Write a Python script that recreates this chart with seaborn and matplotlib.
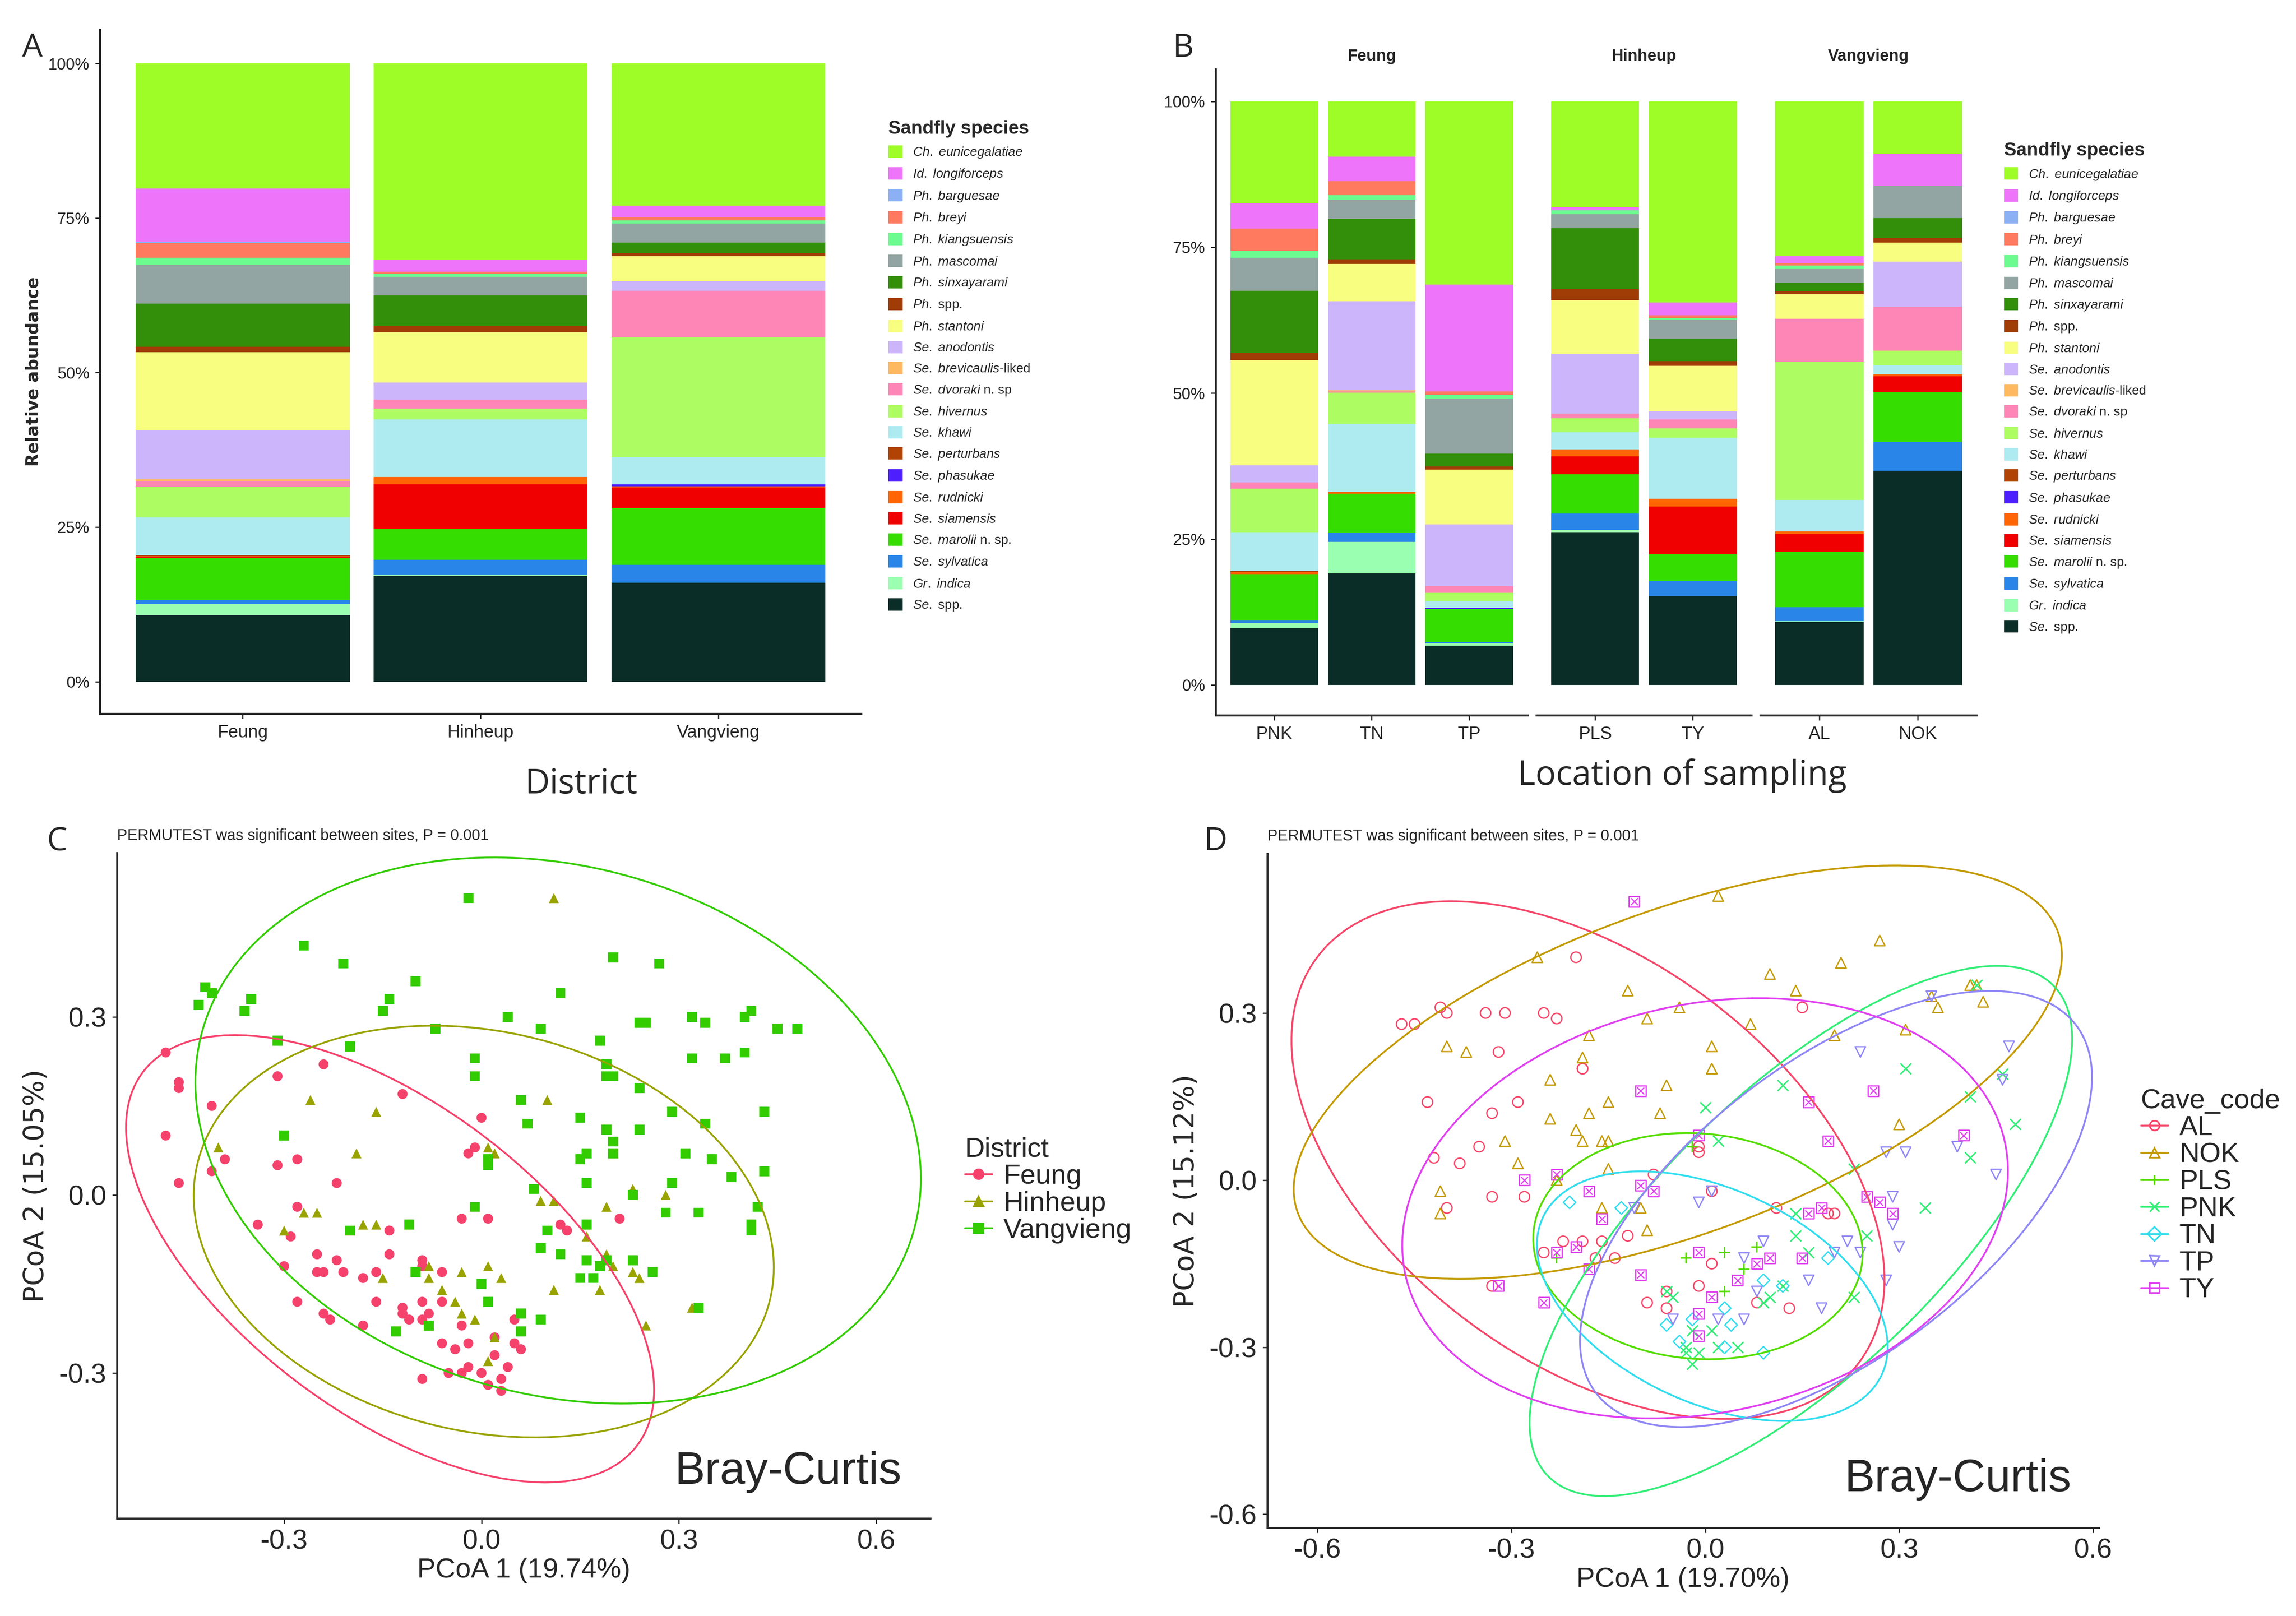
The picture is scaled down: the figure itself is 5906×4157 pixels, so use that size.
"""Sandfly species composition (stacked bars) and PCoA ordinations (Bray-Curtis)."""

import matplotlib
matplotlib.use("Agg")
import matplotlib.pyplot as plt
from matplotlib.lines import Line2D
from matplotlib.patches import Ellipse, Patch
import numpy as np
import pandas as pd
import seaborn as sns

sns.set_theme(style="ticks")
NARROW = ["Liberation Sans", "DejaVu Sans"]
plt.rcParams["font.family"] = NARROW
plt.rcParams["mathtext.fontset"] = "custom"
plt.rcParams["mathtext.it"] = "Liberation Sans:italic"
plt.rcParams["mathtext.rm"] = "Liberation Sans"

# ---------------- data: species composition (% per group, legend order) ----------------
species = [
    ("Ch. eunicegalatiae", ""), ("Id. longiforceps", ""), ("Ph. barguesae", ""),
    ("Ph. breyi", ""), ("Ph. kiangsuensis", ""), ("Ph. mascomai", ""),
    ("Ph. sinxayarami", ""), ("Ph.", " spp."), ("Ph. stantoni", ""),
    ("Se. anodontis", ""), ("Se. brevicaulis", "-liked"), ("Se. dvoraki", " n. sp"),
    ("Se. hivernus", ""), ("Se. khawi", ""), ("Se. perturbans", ""),
    ("Se. phasukae", ""), ("Se. rudnicki", ""), ("Se. siamensis", ""),
    ("Se. marolii", " n. sp."), ("Se. sylvatica", ""), ("Gr. indica", ""), ("Se.", " spp."),
]
species_colors = [
    "#9efd26", "#ee75f9", "#8cb0f4", "#ff7a5e", "#6cfb8e", "#93a5a2",
    "#338f09", "#a03c06", "#f8fe7f", "#cdb5fb", "#fdb860", "#fd86b7",
    "#adfd62", "#adebf0", "#b14405", "#4e1ffe", "#ff6505", "#f00000",
    "#36dd00", "#2986e8", "#9bffb1", "#0b2d27",
]

districts = ["Feung", "Hinheup", "Vangvieng"]
feung_pct = [20.3, 8.6, 0.2, 2.4, 1.1, 6.3, 7.0, 0.9, 12.6, 8.0, 0.3, 0.9, 5.0, 6.1, 0.2, 0.0, 0.1, 0.2, 6.8, 0.6, 1.8, 10.8]
hinheup_pct = [31.8, 1.9, 0.0, 0.3, 0.5, 3.0, 5.0, 1.0, 8.1, 2.8, 0.0, 1.4, 1.8, 9.3, 0.0, 0.0, 1.2, 7.2, 5.0, 2.4, 0.2, 17.1]
vangvieng_pct = [23.0, 1.9, 0.0, 0.5, 0.5, 3.1, 1.7, 0.5, 4.0, 1.6, 0.0, 7.5, 19.4, 4.4, 0.0, 0.3, 0.2, 3.3, 9.2, 2.9, 0.0, 16.0]

site_groups = {"Feung": ["PNK", "TN", "TP"], "Hinheup": ["PLS", "TY"], "Vangvieng": ["AL", "NOK"]}
pnk_pct = [17.5, 4.3, 0.0, 3.8, 1.2, 5.7, 10.6, 1.2, 18.1, 2.9, 0.0, 1.1, 7.4, 6.7, 0.2, 0.0, 0.3, 0.0, 7.9, 0.5, 0.8, 9.8]
tn_pct = [9.5, 4.2, 0.0, 2.4, 0.8, 3.3, 6.9, 0.8, 6.4, 15.3, 0.2, 0.2, 5.3, 11.7, 0.0, 0.0, 0.3, 0.0, 6.7, 1.6, 5.4, 19.1]
tp_pct = [31.4, 18.3, 0.0, 0.6, 0.7, 9.4, 2.2, 0.5, 9.4, 10.6, 0.0, 1.1, 1.5, 1.1, 0.0, 0.2, 0.0, 0.0, 5.7, 0.2, 0.4, 6.7]
pls_pct = [18.2, 0.5, 0.0, 0.0, 0.7, 2.4, 10.4, 1.9, 9.2, 10.3, 0.0, 0.8, 2.4, 2.9, 0.0, 0.0, 1.2, 3.1, 6.7, 2.8, 0.4, 26.2]
ty_pct = [34.5, 2.2, 0.0, 0.5, 0.3, 3.2, 3.9, 0.8, 7.8, 1.4, 0.0, 1.5, 1.6, 10.5, 0.0, 0.0, 1.3, 8.2, 4.6, 2.6, 0.0, 15.2]
al_pct = [26.6, 1.2, 0.0, 0.4, 0.6, 2.4, 1.4, 0.5, 4.2, 0.0, 0.0, 7.4, 23.7, 5.4, 0.0, 0.0, 0.4, 3.1, 9.5, 2.4, 0.1, 10.8]
nok_pct = [9.0, 5.5, 0.0, 0.0, 0.0, 5.5, 3.4, 0.8, 3.3, 7.7, 0.0, 7.5, 2.5, 1.6, 0.0, 0.0, 0.3, 2.7, 8.6, 4.9, 0.0, 36.7]

# ---------------- data: PCoA scores ----------------
feung_pts = [(-0.48,0.24),(-0.46,0.19),(-0.46,0.18),(-0.48,0.10),(-0.41,0.15),(-0.39,0.06),(-0.41,0.04),(-0.46,0.02),
    (-0.31,0.20),(-0.24,0.22),(-0.12,0.17),(0.00,0.13),(-0.31,0.05),(-0.28,0.06),(-0.22,0.02),(-0.02,0.07),(-0.01,0.08),
    (-0.28,-0.02),(-0.34,-0.05),(-0.29,-0.07),(-0.30,-0.12),(-0.25,-0.10),(-0.22,-0.11),(-0.24,-0.13),(-0.25,-0.13),
    (-0.21,-0.13),(-0.18,-0.14),(-0.16,-0.13),(-0.14,-0.10),(-0.14,-0.06),(-0.03,-0.04),(0.01,-0.04),(-0.28,-0.18),
    (-0.24,-0.20),(-0.23,-0.21),(-0.18,-0.22),(-0.16,-0.18),(-0.12,-0.19),(-0.12,-0.20),(-0.11,-0.21),(-0.09,-0.21),
    (-0.09,-0.18),(-0.08,-0.20),(-0.09,-0.12),(-0.09,-0.11),(-0.06,-0.13),(-0.06,-0.18),(-0.03,-0.22),(-0.06,-0.25),
    (-0.04,-0.26),(-0.02,-0.25),(0.02,-0.24),(0.02,-0.27),(-0.09,-0.31),(-0.05,-0.30),(-0.03,-0.30),(-0.02,-0.29),
    (0.00,-0.30),(0.01,-0.32),(0.03,-0.33),(0.03,-0.31),(0.04,-0.29),(0.06,-0.26),(0.05,-0.25),(0.05,-0.21),
    (0.06,-0.20),(0.12,-0.05),(0.13,-0.06),(0.21,-0.04)]
hinheup_pts = [(0.11,0.50),(-0.26,0.16),(-0.16,0.14),(0.10,0.16),(-0.40,0.08),(-0.19,0.07),(0.01,0.08),(0.02,0.07),
    (-0.27,-0.03),(-0.25,-0.03),(-0.30,-0.06),(-0.20,-0.06),(-0.18,-0.05),(-0.16,-0.05),(-0.08,-0.12),(-0.10,-0.13),
    (-0.08,-0.14),(-0.15,-0.14),(-0.06,-0.16),(-0.04,-0.18),(-0.03,-0.13),(0.01,-0.12),(0.03,-0.14),(-0.03,-0.20),
    (-0.01,-0.21),(0.02,-0.24),(0.01,-0.28),(0.11,-0.16),(0.09,-0.01),(0.11,-0.01),(0.19,-0.02),(0.16,-0.07),
    (0.19,-0.10),(0.20,-0.12),(0.23,-0.13),(0.24,-0.14),(0.18,-0.16),(0.23,0.01),(0.28,0.00),(0.32,-0.19),(0.25,-0.22)]
vangvieng_pts = [(-0.02,0.50),(-0.27,0.42),(-0.21,0.39),(-0.10,0.36),(-0.14,0.33),(-0.15,0.31),(-0.42,0.35),(-0.41,0.34),
    (-0.35,0.33),(-0.43,0.32),(-0.36,0.31),(-0.31,0.26),(-0.20,0.25),(-0.07,0.28),(0.04,0.30),(0.09,0.28),(0.12,0.34),
    (0.20,0.40),(0.27,0.39),(0.18,0.26),(0.19,0.22),(0.19,0.20),(0.20,0.20),(-0.01,0.23),(-0.01,0.20),(0.06,0.16),
    (0.07,0.12),(0.15,0.13),(0.19,0.11),(0.20,0.09),(0.24,0.18),(0.24,0.11),(0.24,0.29),(0.25,0.29),(0.32,0.30),
    (0.34,0.29),(0.40,0.30),(0.41,0.31),(0.45,0.28),(0.48,0.28),(0.32,0.23),(0.37,0.23),(0.40,0.24),(0.29,0.14),
    (0.34,0.12),(0.43,0.14),(0.31,0.07),(0.35,0.06),(0.43,0.04),(0.38,0.03),(0.29,0.02),(0.15,0.06),(0.16,0.07),
    (0.20,0.07),(0.16,0.02),(0.08,0.01),(-0.30,0.10),(0.01,0.06),(0.01,0.05),(-0.01,-0.02),(-0.11,-0.05),(-0.20,-0.06),
    (0.10,-0.06),(0.16,-0.05),(0.09,-0.09),(0.12,-0.10),(0.16,-0.11),(0.18,-0.12),(0.19,-0.11),(0.23,-0.11),
    (0.26,-0.13),(0.17,-0.14),(0.15,-0.14),(0.28,-0.03),(0.33,-0.03),(0.42,-0.02),(0.41,-0.05),(0.41,-0.06),
    (0.23,0.00),(0.00,-0.15),(0.01,-0.18),(0.06,-0.20),(0.06,-0.23),(0.09,-0.21),(-0.08,-0.22),(-0.13,-0.23),
    (-0.10,-0.13),(0.33,-0.19)]

al_pts = [(-0.47,0.28),(-0.45,0.28),(-0.41,0.31),(-0.40,0.30),(-0.34,0.30),(-0.31,0.30),(-0.25,0.30),(-0.23,0.29),
    (-0.20,0.40),(-0.32,0.23),(-0.19,0.20),(-0.19,0.20),(-0.43,0.14),(-0.33,0.12),(-0.29,0.14),(-0.42,0.04),
    (-0.38,0.03),(-0.35,0.06),(-0.33,-0.03),(-0.28,-0.03),(-0.40,-0.05),(-0.08,0.01),(0.01,-0.02),(0.15,0.31),
    (-0.22,-0.11),(-0.19,-0.11),(-0.25,-0.13),(-0.16,-0.11),(-0.17,-0.14),(-0.14,-0.14),(-0.12,-0.10),(0.01,-0.15),
    (-0.01,-0.19),(-0.06,-0.20),(-0.09,-0.22),(-0.06,-0.23),(0.08,-0.22),(0.13,-0.23),(0.11,-0.05),(0.19,-0.06),
    (0.20,-0.06),(-0.01,0.06),(-0.01,0.05),(-0.33,-0.19)]
nok_pts = [(0.02,0.51),(-0.26,0.40),(0.27,0.43),(0.21,0.39),(0.10,0.37),(-0.12,0.34),(0.14,0.34),(-0.04,0.31),
    (-0.09,0.29),(0.07,0.28),(-0.18,0.26),(-0.19,0.22),(-0.40,0.24),(-0.37,0.23),(-0.24,0.18),(0.01,0.24),(0.01,0.20),
    (0.20,0.26),(0.31,0.27),(-0.06,0.17),(-0.07,0.12),(-0.15,0.14),(-0.18,0.12),(-0.24,0.11),(-0.20,0.09),(-0.19,0.07),
    (-0.16,0.07),(-0.15,0.07),(-0.31,0.07),(-0.15,0.02),(-0.29,0.03),(-0.23,0.00),(-0.41,-0.02),(-0.41,-0.06),
    (0.35,0.33),(0.36,0.31),(0.41,0.35),(0.42,0.35),(0.43,0.32),(0.30,0.10),(-0.16,-0.05),(-0.10,-0.05),(-0.09,-0.09)]
pls_pts = [(-0.02,0.06),(-0.03,-0.14),(0.03,-0.13),(0.08,-0.12),(0.06,-0.16),(0.03,-0.20),(-0.23,-0.14)]
pnk_pts = [(0.12,0.17),(0.00,0.13),(0.02,0.07),(0.31,0.20),(0.41,0.15),(0.46,0.19),(0.48,0.10),(0.41,0.04),(0.23,0.02),
    (0.34,-0.05),(0.25,-0.10),(0.14,-0.10),(0.14,-0.06),(0.16,-0.13),(0.12,-0.19),(0.10,-0.21),(0.09,-0.22),(0.23,-0.21),
    (0.01,-0.27),(-0.01,-0.31),(-0.03,-0.31),(-0.03,-0.30),(-0.02,-0.33),(0.02,-0.30),(0.05,-0.30),(-0.02,-0.27),
    (-0.06,-0.20),(-0.05,-0.21),(0.42,0.35)]
tn_pts = [(-0.21,-0.04),(-0.13,-0.05),(0.19,-0.14),(0.09,-0.18),(0.12,-0.19),(0.03,-0.23),(-0.06,-0.26),(-0.04,-0.29),
    (0.04,-0.26),(0.03,-0.30),(0.09,-0.31),(-0.02,-0.25)]
tp_pts = [(0.24,0.23),(0.28,0.05),(0.31,0.05),(0.39,0.06),(0.45,0.01),(0.46,0.18),(0.47,0.24),(0.35,0.33),(-0.01,-0.04),
    (0.01,-0.02),(0.06,-0.14),(0.09,-0.11),(-0.11,-0.05),(0.22,-0.11),(0.20,-0.13),(0.24,-0.13),(0.28,-0.18),(0.30,-0.12),
    (0.29,-0.03),(0.29,-0.08),(0.18,-0.23),(0.16,-0.18),(0.08,-0.20),(0.02,-0.25),(0.06,-0.25),(-0.05,-0.25)]
ty_pts = [(-0.11,0.50),(-0.10,0.16),(0.16,0.14),(0.26,0.16),(-0.01,0.08),(0.19,0.07),(-0.23,0.01),(-0.28,0.00),
    (-0.18,-0.02),(-0.10,-0.01),(-0.08,-0.02),(0.40,0.08),(0.25,-0.03),(0.27,-0.04),(0.29,-0.06),(-0.16,-0.07),
    (0.16,-0.06),(0.18,-0.05),(-0.01,-0.13),(0.10,-0.14),(0.08,-0.15),(0.15,-0.14),(0.05,-0.18),(0.01,-0.21),
    (-0.01,-0.24),(-0.01,-0.28),(-0.10,-0.17),(-0.18,-0.16),(-0.20,-0.12),(-0.23,-0.13),(-0.25,-0.22),(-0.32,-0.19)]

district_colors = {"Feung": "#f5426c", "Hinheup": "#99a300", "Vangvieng": "#33cc00"}
cave_colors = {"AL": "#f5476a", "NOK": "#c49a00", "PLS": "#55dd00", "PNK": "#33ee77",
               "TN": "#33ddee", "TP": "#8f86f5", "TY": "#e040f0"}


def species_label(it, rest):
    return r"$\it{" + it.replace(" ", r"\ ") + "}$" + rest


def stacked(ax, names, rows):
    """Stacked bars, last species at the bottom."""
    df = pd.DataFrame(rows, index=names, columns=range(len(species)))
    df = df.div(df.sum(axis=1), axis=0)
    bottom = np.zeros(len(names))
    for k in reversed(range(len(species))):
        ax.bar(np.arange(len(names)), df[k].values, bottom=bottom, width=0.9,
               color=species_colors[k], linewidth=0)
        bottom += df[k].values
    ax.set_xticks(np.arange(len(names)))
    ax.set_xticklabels(names, fontsize=11)
    ax.set_xlim(-0.6, len(names) - 0.4)
    ax.set_ylim(-0.052, 1.055)
    ax.tick_params(axis="y", labelsize=10, length=3, width=0.8)
    ax.tick_params(axis="x", length=3, width=0.8)
    sns.despine(ax=ax)


def species_legend(x, y):
    handles = [Patch(facecolor=c, edgecolor="none") for c in species_colors]
    labels = [species_label(a, b) for a, b in species]
    leg = fig.legend(handles, labels, loc="upper left", bbox_to_anchor=(x, y), frameon=False,
                     title="Sandfly species", fontsize=8, handlelength=1.1, handleheight=1.1,
                     labelspacing=0.6, handletextpad=0.8, borderaxespad=0)
    leg.get_title().set_fontsize(11.5)
    leg.get_title().set_fontweight("bold")
    leg._legend_box.align = "left"


def ellipse(ax, pts, color):
    arr = np.asarray(pts)
    mu = arr.mean(axis=0)
    vals, vecs = np.linalg.eigh(np.cov(arr.T))
    scale = np.sqrt(5.991)
    ang = np.degrees(np.arctan2(vecs[1, 1], vecs[0, 1]))
    ax.add_patch(Ellipse(mu, 2 * scale * np.sqrt(vals[1]), 2 * scale * np.sqrt(vals[0]), angle=ang,
                         fill=False, edgecolor=color, linewidth=1.1))


def pcoa_axes(ax, xlabel, ylabel, xlim, ylim, xticks, yticks):
    ax.set_xlim(*xlim)
    ax.set_ylim(*ylim)
    ax.set_xticks(xticks)
    ax.set_xticklabels([f"{t:.1f}" for t in xticks], fontsize=17)
    ax.set_yticks(yticks)
    ax.set_yticklabels([f"{t:.1f}" for t in yticks], fontsize=17)
    ax.set_xlabel(xlabel, fontsize=17, labelpad=2)
    ax.set_ylabel(ylabel, fontsize=17, family="DejaVu Sans", labelpad=6)
    ax.tick_params(length=3, width=0.8)
    ax.text(0.0, 1.015, "PERMUTEST was significant between sites, P = 0.001", transform=ax.transAxes,
            fontsize=9.5, va="bottom")
    sns.despine(ax=ax)


W, H = 1560, 1098
fig = plt.figure(figsize=(5906 / 300, 4157 / 300), dpi=300)


def box(l, t, r, b):
    return [l / W, 1 - b / H, (r - l) / W, (b - t) / H]


# ---------------- A ----------------
axA = fig.add_axes(box(68, 20, 585, 485))
stacked(axA, districts, [feung_pct, hinheup_pct, vangvieng_pct])
axA.set_yticks([0, 0.25, 0.5, 0.75, 1.0])
axA.set_yticklabels(["0%", "25%", "50%", "75%", "100%"])
axA.set_ylabel("Relative abundance", fontsize=10.5, fontweight="bold", family="DejaVu Sans", labelpad=4)
fig.text(395 / W, 1 - 533 / H, "District", ha="center", va="center", fontsize=21, family="Open Sans")
species_legend(600 / W, 1 - 78 / H)

# ---------------- B (faceted) ----------------
site_rows = {"PNK": pnk_pct, "TN": tn_pct, "TP": tp_pct, "PLS": pls_pct, "TY": ty_pct, "AL": al_pct, "NOK": nok_pct}
facet_box = {"Feung": (826, 1038), "Hinheup": (1044, 1190), "Vangvieng": (1196, 1343)}
for i, (dist, sites) in enumerate(site_groups.items()):
    l, r = facet_box[dist]
    ax = fig.add_axes(box(l, 47, r, 486))
    stacked(ax, sites, [site_rows[s] for s in sites])
    ax.set_yticks([0, 0.25, 0.5, 0.75, 1.0])
    ax.text(0.5, 1.02, dist, transform=ax.transAxes, ha="center", va="center", fontsize=10, fontweight="bold")
    if i == 0:
        ax.set_yticklabels(["0%", "25%", "50%", "75%", "100%"])
    else:
        ax.tick_params(axis="y", left=False, labelleft=False)
        ax.spines["left"].set_visible(False)
fig.text(1143 / W, 1 - 527 / H, "Location of sampling", ha="center", va="center", fontsize=21, family="Open Sans")
species_legend(1358 / W, 1 - 93 / H)

# ---------------- C ----------------
axC = fig.add_axes(box(79.5, 579.6, 632, 1031.7))
dfC = pd.concat([pd.DataFrame(p, columns=["PCoA1", "PCoA2"]).assign(District=d)
                 for d, p in zip(districts, [feung_pts, hinheup_pts, vangvieng_pts])])
markersC = {"Feung": "o", "Hinheup": "^", "Vangvieng": "s"}
sns.scatterplot(data=dfC, x="PCoA1", y="PCoA2", hue="District", style="District", palette=district_colors,
                markers=markersC, s=38, linewidth=0, legend=False, ax=axC)
for d, p in zip(districts, [feung_pts, hinheup_pts, vangvieng_pts]):
    ellipse(axC, p, district_colors[d])
pcoa_axes(axC, "PCoA 1 (19.74%)", "PCoA 2 (15.05%)", (-0.554, 0.682), (-0.545, 0.576),
          [-0.3, 0.0, 0.3, 0.6], [-0.3, 0.0, 0.3])
axC.text(0.466, -0.467, "Bray-Curtis", fontsize=28, ha="center", va="center")
hC = [Line2D([], [], color=district_colors[d], marker=markersC[d], markersize=6, linewidth=1.1) for d in districts]
legC = fig.legend(hC, districts, loc="upper left", bbox_to_anchor=(648 / W, 1 - 765 / H), frameon=False,
                  title="District", fontsize=17, handlelength=1.0, labelspacing=0.05, handletextpad=0.4,
                  borderaxespad=0)
legC.get_title().set_fontsize(17)
legC._legend_box.align = "left"

# ---------------- D ----------------
axD = fig.add_axes(box(861, 580, 1426, 1038))
caves = ["AL", "NOK", "PLS", "PNK", "TN", "TP", "TY"]
cave_pts = [al_pts, nok_pts, pls_pts, pnk_pts, tn_pts, tp_pts, ty_pts]
markersD = {"AL": "o", "NOK": "^", "PLS": "+", "PNK": "x", "TN": "D", "TP": "v", "TY": "s"}
dfD = pd.concat([pd.DataFrame(p, columns=["PCoA1", "PCoA2"]).assign(Cave_code=c) for c, p in zip(caves, cave_pts)])
for c in caves:
    sub = dfD[dfD["Cave_code"] == c]
    col = cave_colors[c]
    size = 30 if c == "TN" else 42
    if markersD[c] in "+x":
        sns.scatterplot(data=sub, x="PCoA1", y="PCoA2", marker=markersD[c], color=col, s=45,
                        linewidth=0.9, legend=False, ax=axD)
    else:
        axD.scatter(sub["PCoA1"], sub["PCoA2"], marker=markersD[c], s=size, facecolors="none",
                    edgecolors=col, linewidths=0.8)
    if c == "TY":
        axD.scatter(sub["PCoA1"], sub["PCoA2"], marker="x", s=18, color=col, linewidths=0.7)
for c, p in zip(caves, cave_pts):
    ellipse(axD, p, cave_colors[c])
pcoa_axes(axD, "PCoA 1 (19.70%)", "PCoA 2 (15.12%)", (-0.678, 0.609), (-0.624, 0.586),
          [-0.6, -0.3, 0.0, 0.3, 0.6], [-0.6, -0.3, 0.0, 0.3])
axD.text(0.391, -0.537, "Bray-Curtis", fontsize=28, ha="center", va="center")
hD = [Line2D([], [], color=cave_colors[c], marker=markersD[c], markersize=6, linewidth=1.1,
             markerfacecolor="none") for c in caves]
legD = fig.legend(hD, caves, loc="upper left", bbox_to_anchor=(1447 / W, 1 - 732 / H), frameon=False,
                  title="Cave_code", fontsize=17, handlelength=1.0, labelspacing=0.05, handletextpad=0.4,
                  borderaxespad=0)
legD.get_title().set_fontsize(17)
legD._legend_box.align = "left"

# panel letters
for letter, (x, y) in {"A": (15, 33), "B": (797, 33), "C": (32, 572), "D": (818, 572)}.items():
    fig.text(x / W, 1 - y / H, letter, fontsize=20, family="Open Sans", va="center")

fig.savefig("out.png", dpi=300)
